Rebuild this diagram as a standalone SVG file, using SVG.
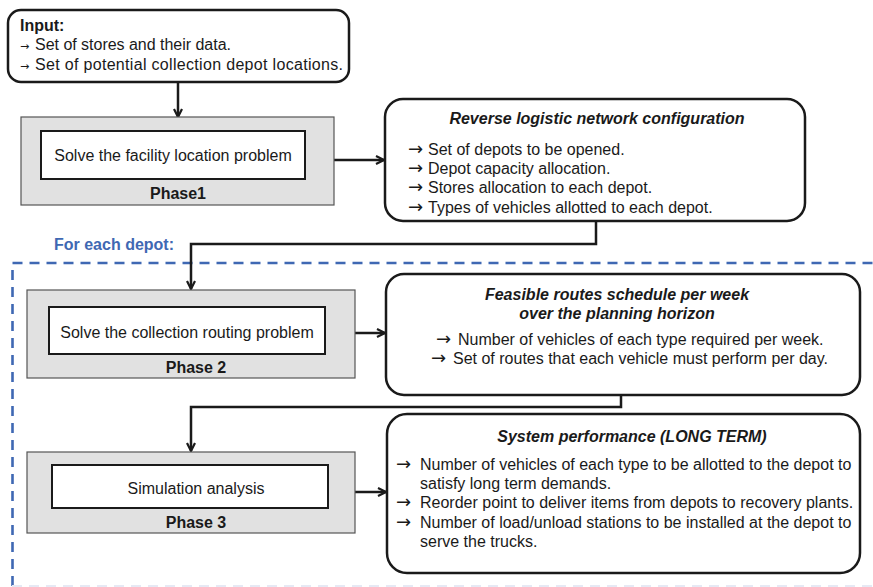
<svg xmlns="http://www.w3.org/2000/svg" width="873" height="587" viewBox="0 0 873 587">
  <style>
    text { font-family: "Liberation Sans", Arial, sans-serif; fill: #1a1a1a; }
    .body { font-size: 16px; }
    .bold { font-size: 16px; font-weight: bold; }
    .title { font-size: 16px; font-weight: bold; font-style: italic; }
    .arr { font-family: "DejaVu Sans", sans-serif; font-size: 18px; }
    .arr-s { font-family: "DejaVu Sans", sans-serif; font-size: 11px; }
    .outcome { fill: #ffffff; stroke: #1a1a1a; stroke-width: 2.5; }
    .phase { fill: #e1e1e1; stroke: #555555; stroke-width: 1.2; }
    .task { fill: #ffffff; stroke: #1a1a1a; stroke-width: 2; }
    .link { fill: none; stroke: #1a1a1a; stroke-width: 2.5; marker-end: url(#head); }
    .loop { fill: none; stroke: #3f68b3; stroke-width: 2.6; stroke-dasharray: 10 7; }
  </style>
  <defs>
    <marker id="head" viewBox="0 0 10 10" refX="9" refY="5" markerWidth="10" markerHeight="10" markerUnits="userSpaceOnUse" orient="auto">
      <path d="M1,1 L9,5 L1,9" fill="none" stroke="#1a1a1a" stroke-width="2.2"/>
    </marker>
  </defs>

  <!-- per-depot loop frame -->
  <g id="depot-loop">
    <path class="loop" d="M12.5,586 L12.5,263 L873,263"/>
    <line x1="12" y1="586" x2="873" y2="586" stroke="#e6e9f4" stroke-width="2" stroke-dasharray="10 7"/>
    <text x="54" y="250" style="font-size:16px;font-weight:bold;fill:#3f68b3">For each depot:</text>
  </g>

  <g id="connectors">
    <line class="link" x1="178" y1="83" x2="178" y2="117"/>
    <line class="link" x1="334" y1="160" x2="384" y2="160"/>
    <polyline class="link" points="596,221 596,244 191,244 191,289"/>
    <line class="link" x1="355" y1="333" x2="385" y2="333"/>
    <polyline class="link" points="621,395 621,407 191,407 191,451"/>
    <line class="link" x1="355" y1="492" x2="386" y2="492"/>
  </g>

  <g id="input">
    <rect class="outcome" x="8" y="10" width="341" height="72" rx="13"/>
    <text class="bold" x="20" y="31">Input:</text>
    <text class="body" y="50"><tspan class="arr-s" x="20">→</tspan><tspan x="35" textLength="196">Set of stores and their data.</tspan></text>
    <text class="body" y="70"><tspan class="arr-s" x="20">→</tspan><tspan x="35" textLength="308">Set of potential collection depot locations.</tspan></text>
  </g>

  <g id="phase1">
    <rect class="phase" x="21" y="117" width="313" height="88"/>
    <rect class="task" x="41" y="131" width="264" height="48"/>
    <text class="body" x="173" y="161" text-anchor="middle">Solve the facility location problem</text>
    <text class="bold" x="178" y="199" text-anchor="middle">Phase1</text>
  </g>

  <g id="network-configuration">
    <rect class="outcome" x="385" y="99" width="420" height="122" rx="18"/>
    <text class="title" x="597" y="124" text-anchor="middle">Reverse logistic network configuration</text>
    <text class="body" y="155"><tspan class="arr" x="408">→</tspan><tspan x="428">Set of depots to be opened.</tspan></text>
    <text class="body" y="174"><tspan class="arr" x="408">→</tspan><tspan x="428">Depot capacity allocation.</tspan></text>
    <text class="body" y="193"><tspan class="arr" x="408">→</tspan><tspan x="428">Stores allocation to each depot.</tspan></text>
    <text class="body" y="213"><tspan class="arr" x="408">→</tspan><tspan x="428">Types of vehicles allotted to each depot.</tspan></text>
  </g>

  <g id="phase2">
    <rect class="phase" x="27" y="290" width="328" height="88"/>
    <rect class="task" x="49" y="307" width="276" height="47"/>
    <text class="body" x="187" y="338" text-anchor="middle">Solve the collection routing problem</text>
    <text class="bold" x="196" y="373" text-anchor="middle">Phase 2</text>
  </g>

  <g id="routes-schedule">
    <rect class="outcome" x="386" y="274" width="474" height="121" rx="18"/>
    <text class="title" x="617" y="300" text-anchor="middle">Feasible routes schedule per week</text>
    <text class="title" x="617" y="319" text-anchor="middle">over the planning horizon</text>
    <text class="body" y="345"><tspan class="arr" x="436">→</tspan><tspan x="458">Number of vehicles of each type required per week.</tspan></text>
    <text class="body" y="364"><tspan class="arr" x="431">→</tspan><tspan x="453">Set of routes that each vehicle must perform per day.</tspan></text>
  </g>

  <g id="phase3">
    <rect class="phase" x="27" y="452" width="328" height="81"/>
    <rect class="task" x="52" y="465" width="276" height="43"/>
    <text class="body" x="196" y="494" text-anchor="middle">Simulation analysis</text>
    <text class="bold" x="196" y="528" text-anchor="middle">Phase 3</text>
  </g>

  <g id="system-performance">
    <rect class="outcome" x="387" y="414" width="473" height="159" rx="20"/>
    <text class="title" x="632" y="442" text-anchor="middle">System performance (LONG TERM)</text>
    <text class="body" y="470"><tspan class="arr" x="396">→</tspan><tspan x="420">Number of vehicles of each type to be allotted to the depot to</tspan></text>
    <text class="body" x="420" y="489">satisfy long term demands.</text>
    <text class="body" y="508"><tspan class="arr" x="396">→</tspan><tspan x="420">Reorder point to deliver items from depots to recovery plants.</tspan></text>
    <text class="body" y="528"><tspan class="arr" x="396">→</tspan><tspan x="420">Number of load/unload stations to be installed at the depot to</tspan></text>
    <text class="body" x="420" y="547">serve the trucks.</text>
  </g>
</svg>
